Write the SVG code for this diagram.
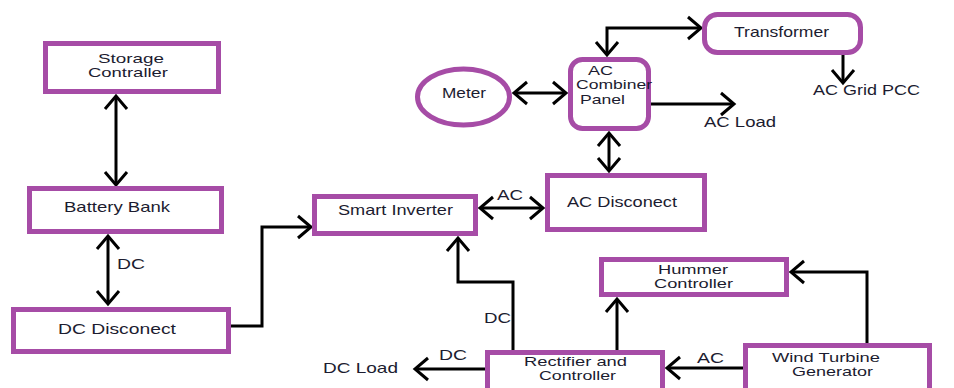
<svg xmlns="http://www.w3.org/2000/svg" width="954" height="388" viewBox="0 0 954 388">
<style>
.box{fill:#fff;stroke:#A64CA6;stroke-width:5}
.t{font-family:"Liberation Sans",Arial,sans-serif;font-size:15px;fill:#1c1c30}
.s{font-size:13.5px}
.c{fill:none;stroke:#000;stroke-width:3}
</style>
<defs>
<marker id="ah" markerUnits="userSpaceOnUse" markerWidth="24" markerHeight="28" viewBox="-16 -14 20 28" refX="0" refY="0" orient="auto-start-reverse">
<path d="M-13,-11 L0,0 L-13,11" fill="none" stroke="#000" stroke-width="3"/>
</marker>
</defs>
<rect width="954" height="388" fill="#fff"/>
<g id="connectors">
<path class="c" d="M116,96 V185" marker-start="url(#ah)" marker-end="url(#ah)"/>
<path class="c" d="M108,236 V304" marker-start="url(#ah)" marker-end="url(#ah)"/>
<path class="c" d="M231,326 H262 V227 H311"  marker-end="url(#ah)"/>
<path class="c" d="M513,350 V282 H458 V238" marker-end="url(#ah)"/>
<path class="c" d="M485,369 H415" marker-end="url(#ah)"/>
<path class="c" d="M743,368 H667" marker-end="url(#ah)"/>
<path class="c" d="M617,350 V299" marker-end="url(#ah)"/>
<path class="c" d="M867,343 V272 H791" marker-end="url(#ah)"/>
<path class="c" d="M480,208 H543" marker-start="url(#ah)" marker-end="url(#ah)"/>
<path class="c" d="M609,133 V171" marker-start="url(#ah)" marker-end="url(#ah)"/>
<path class="c" d="M514,93 H566" marker-start="url(#ah)" marker-end="url(#ah)"/>
<path class="c" d="M651,104 H734" marker-end="url(#ah)"/>
<path class="c" d="M607,55 V28 H701" marker-start="url(#ah)" marker-end="url(#ah)"/>
<path class="c" d="M843,55 V83" marker-end="url(#ah)"/>
</g>
<g id="storage-controller">
<rect class="box" x="45.5" y="43.5" width="173" height="48"/>
<text class="t s" x="98" y="62.5" textLength="66" lengthAdjust="spacingAndGlyphs">Storage</text>
<text class="t s" x="88" y="77" textLength="80" lengthAdjust="spacingAndGlyphs">Contraller</text>
</g>
<g id="battery-bank">
<rect class="box" x="29.5" y="188.5" width="192" height="43"/>
<text class="t" x="64" y="212" textLength="106" lengthAdjust="spacingAndGlyphs">Battery Bank</text>
</g>
<g id="dc-disconnect">
<rect class="box" x="13.5" y="309.5" width="215" height="42"/>
<text class="t" x="58" y="334" textLength="118" lengthAdjust="spacingAndGlyphs">DC Disconect</text>
</g>
<g id="smart-inverter">
<rect class="box" x="314.5" y="196.5" width="161" height="37"/>
<text class="t" x="338" y="215" textLength="115" lengthAdjust="spacingAndGlyphs">Smart Inverter</text>
</g>
<g id="ac-disconnect">
<rect class="box" x="547.5" y="175.5" width="157" height="54"/>
<text class="t" x="567" y="207" textLength="110" lengthAdjust="spacingAndGlyphs">AC Disconect</text>
</g>
<g id="ac-combiner-panel">
<rect class="box" x="570.5" y="59.5" width="78" height="69" rx="12"/>
<text class="t s" x="588" y="74.5" textLength="25" lengthAdjust="spacingAndGlyphs">AC</text>
<text class="t s" x="576" y="89" textLength="76" lengthAdjust="spacingAndGlyphs">Combiner</text>
<text class="t s" x="580" y="103.5" textLength="45" lengthAdjust="spacingAndGlyphs">Panel</text>
</g>
<g id="meter">
<ellipse class="box" cx="463.5" cy="97" rx="46" ry="28"/>
<text class="t" x="442" y="98" textLength="44" lengthAdjust="spacingAndGlyphs">Meter</text>
</g>
<g id="transformer">
<rect class="box" x="704.5" y="14.5" width="156" height="38" rx="13"/>
<text class="t" x="734" y="37" textLength="95" lengthAdjust="spacingAndGlyphs">Transformer</text>
</g>
<g id="hummer-controller">
<rect class="box" x="601.5" y="259.5" width="185" height="35"/>
<text class="t s" x="658" y="273.5" textLength="70" lengthAdjust="spacingAndGlyphs">Hummer</text>
<text class="t s" x="654" y="288" textLength="79" lengthAdjust="spacingAndGlyphs">Controller</text>
</g>
<g id="rectifier-controller">
<rect class="box" x="487.5" y="352.5" width="175" height="40"/>
<text class="t s" x="524" y="365.5" textLength="103" lengthAdjust="spacingAndGlyphs">Rectifier and</text>
<text class="t s" x="539" y="379.5" textLength="77" lengthAdjust="spacingAndGlyphs">Controller</text>
</g>
<g id="wind-turbine-generator">
<rect class="box" x="745.5" y="345.5" width="184" height="45"/>
<text class="t s" x="772" y="361.5" textLength="108" lengthAdjust="spacingAndGlyphs">Wind Turbine</text>
<text class="t s" x="792" y="376" textLength="81" lengthAdjust="spacingAndGlyphs">Generator</text>
</g>
<g id="labels">
<text class="t" x="117" y="269" textLength="28" lengthAdjust="spacingAndGlyphs">DC</text>
<text class="t" x="484" y="323" textLength="27" lengthAdjust="spacingAndGlyphs">DC</text>
<text class="t" x="439" y="360" textLength="28" lengthAdjust="spacingAndGlyphs">DC</text>
<text class="t" x="323" y="373" textLength="75" lengthAdjust="spacingAndGlyphs">DC Load</text>
<text class="t" x="697" y="363" textLength="27" lengthAdjust="spacingAndGlyphs">AC</text>
<text class="t" x="497" y="200" textLength="26" lengthAdjust="spacingAndGlyphs">AC</text>
<text class="t" x="704" y="127" textLength="72" lengthAdjust="spacingAndGlyphs">AC Load</text>
<text class="t" x="813" y="95" textLength="107" lengthAdjust="spacingAndGlyphs">AC Grid PCC</text>
</g>
</svg>
